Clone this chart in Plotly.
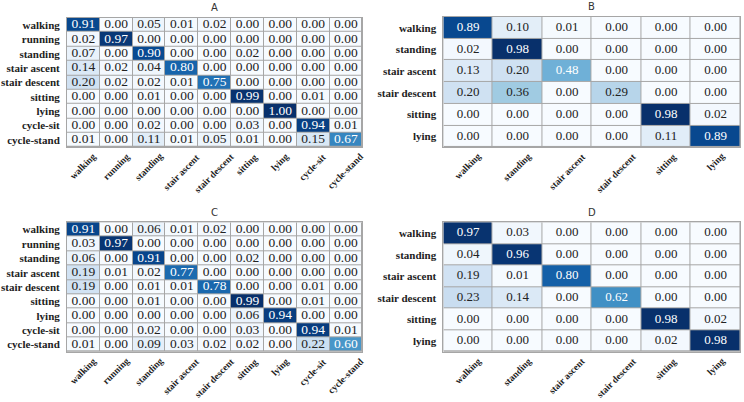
import plotly.graph_objects as go
import plotly.colors as pc

labels9 = ["walking", "running", "standing", "stair ascent", "stair descent",
           "sitting", "lying", "cycle-sit", "cycle-stand"]
labels6 = ["walking", "standing", "stair ascent", "stair descent", "sitting", "lying"]

mat_A = [
    [0.91, 0.00, 0.05, 0.01, 0.02, 0.00, 0.00, 0.00, 0.00],
    [0.02, 0.97, 0.00, 0.00, 0.00, 0.00, 0.00, 0.00, 0.00],
    [0.07, 0.00, 0.90, 0.00, 0.00, 0.02, 0.00, 0.00, 0.00],
    [0.14, 0.02, 0.04, 0.80, 0.00, 0.00, 0.00, 0.00, 0.00],
    [0.20, 0.02, 0.02, 0.01, 0.75, 0.00, 0.00, 0.00, 0.00],
    [0.00, 0.00, 0.01, 0.00, 0.00, 0.99, 0.00, 0.01, 0.00],
    [0.00, 0.00, 0.00, 0.00, 0.00, 0.00, 1.00, 0.00, 0.00],
    [0.00, 0.00, 0.02, 0.00, 0.00, 0.03, 0.00, 0.94, 0.01],
    [0.01, 0.00, 0.11, 0.01, 0.05, 0.01, 0.00, 0.15, 0.67],
]
mat_B = [
    [0.89, 0.10, 0.01, 0.00, 0.00, 0.00],
    [0.02, 0.98, 0.00, 0.00, 0.00, 0.00],
    [0.13, 0.20, 0.48, 0.00, 0.00, 0.00],
    [0.20, 0.36, 0.00, 0.29, 0.00, 0.00],
    [0.00, 0.00, 0.00, 0.00, 0.98, 0.02],
    [0.00, 0.00, 0.00, 0.00, 0.11, 0.89],
]
mat_C = [
    [0.91, 0.00, 0.06, 0.01, 0.02, 0.00, 0.00, 0.00, 0.00],
    [0.03, 0.97, 0.00, 0.00, 0.00, 0.00, 0.00, 0.00, 0.00],
    [0.06, 0.00, 0.91, 0.00, 0.00, 0.02, 0.00, 0.00, 0.00],
    [0.19, 0.01, 0.02, 0.77, 0.00, 0.00, 0.00, 0.00, 0.00],
    [0.19, 0.00, 0.01, 0.01, 0.78, 0.00, 0.00, 0.01, 0.00],
    [0.00, 0.00, 0.01, 0.00, 0.00, 0.99, 0.00, 0.01, 0.00],
    [0.00, 0.00, 0.00, 0.00, 0.00, 0.06, 0.94, 0.00, 0.00],
    [0.00, 0.00, 0.02, 0.00, 0.00, 0.03, 0.00, 0.94, 0.01],
    [0.01, 0.00, 0.09, 0.03, 0.02, 0.02, 0.00, 0.22, 0.60],
]
mat_D = [
    [0.97, 0.03, 0.00, 0.00, 0.00, 0.00],
    [0.04, 0.96, 0.00, 0.00, 0.00, 0.00],
    [0.19, 0.01, 0.80, 0.00, 0.00, 0.00],
    [0.23, 0.14, 0.00, 0.62, 0.00, 0.00],
    [0.00, 0.00, 0.00, 0.00, 0.98, 0.02],
    [0.00, 0.00, 0.00, 0.00, 0.02, 0.98],
]

panels = [
    ("A", mat_A, labels9, [0.090, 0.487], [0.634, 0.956], 13.5),
    ("B", mat_B, labels6, [0.596, 0.995], [0.634, 0.958], 13),
    ("C", mat_C, labels9, [0.090, 0.487], [0.125, 0.447], 13.5),
    ("D", mat_D, labels6, [0.596, 0.995], [0.125, 0.447], 13),
]

blues = pc.sequential.Blues
cscale = [[i / (len(blues) - 1), c] for i, c in enumerate(blues)]
FONT = "Liberation Serif"
GRID = "#a6a6a6"

fig = go.Figure()
layout = {}
annotations = []
for i, (title, mat, labs, xd, yd, fs) in enumerate(panels):
    n = i + 1
    k = len(labs)
    xa = "x" if n == 1 else f"x{n}"
    ya = "y" if n == 1 else f"y{n}"
    zmax = max(max(r) for r in mat)
    fig.add_trace(go.Heatmap(
        z=mat, x=labs, y=labs, colorscale=cscale, zmin=0, zmax=zmax,
        showscale=False, xgap=1, ygap=1, xaxis=xa, yaxis=ya, hoverinfo="skip"))
    xs, ys, ts, cs = [], [], [], []
    for r, row in enumerate(mat):
        for c, v in enumerate(row):
            xs.append(labs[c]); ys.append(labs[r]); ts.append(f"{v:.2f}")
            cs.append("white" if v / zmax > 0.42 else "#222222")
    fig.add_trace(go.Scatter(
        x=xs, y=ys, text=ts, mode="text", xaxis=xa, yaxis=ya,
        textfont=dict(family=FONT, size=fs, color=cs), hoverinfo="skip",
        showlegend=False))
    kx = "xaxis" if n == 1 else f"xaxis{n}"
    ky = "yaxis" if n == 1 else f"yaxis{n}"
    layout[kx] = dict(domain=xd, anchor=ya, showticklabels=False, showgrid=False,
                      zeroline=False, ticks="", showline=True, mirror=True,
                      linecolor=GRID, linewidth=1, categoryorder="array",
                      categoryarray=labs, range=[-0.5, k - 0.5])
    layout[ky] = dict(domain=yd, anchor=xa, showgrid=False,
                      zeroline=False, ticks="", showline=True, mirror=True,
                      linecolor=GRID, linewidth=1, categoryorder="array",
                      categoryarray=labs, ticklabelstandoff=4, range=[k - 0.5, -0.5],
                      tickfont=dict(family=FONT, size=11, color="#222", weight="bold"))
    # rotated x tick labels, centred under each column
    for lab in labs:
        annotations.append(dict(text=lab, x=lab, xref=xa, y=yd[0], yref="paper",
                                xanchor="center", yanchor="top", yshift=-3,
                                textangle=-45, showarrow=False, borderpad=0,
                                font=dict(family=FONT, size=9.5, color="#222",
                                          weight="bold")))
    annotations.append(dict(text=title, x=(xd[0] + xd[1]) / 2, y=yd[1] + 0.006,
                            xref="paper", yref="paper", xanchor="center",
                            yanchor="bottom", showarrow=False,
                            font=dict(family="DejaVu Sans", size=10, color="#333")))

fig.update_layout(**layout)
fig.update_layout(width=744, height=402, margin=dict(l=0, r=0, t=0, b=0),
                  plot_bgcolor=GRID, paper_bgcolor="white",
                  annotations=annotations, showlegend=False)
fig.write_html("out.html")
